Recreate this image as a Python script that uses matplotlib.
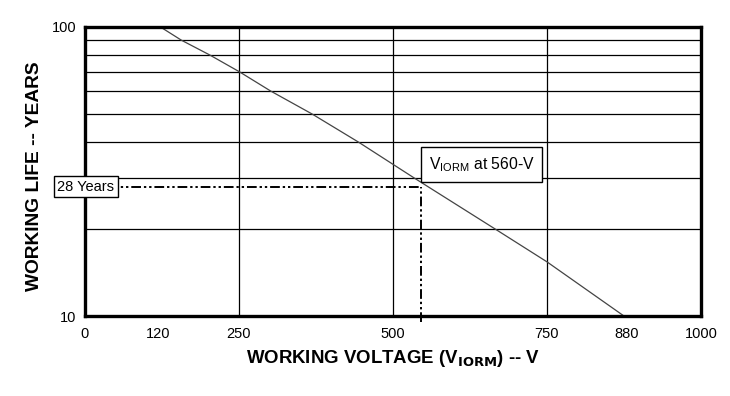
import numpy as np
import matplotlib.pyplot as plt
from matplotlib.ticker import FixedLocator, NullLocator

plt.rcParams['font.family'] = ['Liberation Sans', 'DejaVu Sans']

# curve
voltage = [123, 157, 203, 251, 302, 369, 444, 535, 666, 750, 875]
life = [100, 90, 80, 70, 60, 50, 40, 30, 20, 15.4, 10]

x_ticks = [0, 120, 250, 500, 750, 880, 1000]
x_grid = [250, 500, 750]
y_grid = [20, 30, 40, 50, 60, 70, 80, 90]

v_mark = 545
life_mark = 28

fig = plt.figure(figsize=(7.3, 3.96), dpi=100)
ax = fig.add_axes([0.1158, 0.202, 0.8445, 0.730])

ax.set_yscale('log')
ax.set_xlim(0, 1000)
ax.set_ylim(10, 100)

for gx in x_grid:
    ax.axvline(gx, color='black', lw=0.9, zorder=1)
for gy in y_grid:
    ax.axhline(gy, color='black', lw=0.9, zorder=1)

ax.plot(voltage, life, color='#444444', lw=0.9, zorder=2)

# dash-dot marker lines
ds = (0, (5, 1.5, 1.2, 1.5, 1.2, 1.5))
ax.plot([0, v_mark], [life_mark, life_mark], color='black', lw=1.4, linestyle=ds, zorder=3)
ax.plot([v_mark, v_mark], [9.5, life_mark], color='black', lw=1.4, linestyle=ds,
        zorder=3, clip_on=False)

ax.text(0.0485, life_mark, '28 Years', transform=ax.get_yaxis_transform(),
        ha='right', va='center', fontsize=10.5, zorder=5, clip_on=False,
        bbox=dict(boxstyle='square,pad=0.25', fc='white', ec='black', lw=1.0))
ax.text(558, 31.0, r'V$_{\mathregular{IORM}}$ at 560-V',
        ha='left', va='bottom', fontsize=11.3, zorder=5,
        bbox=dict(boxstyle='square,pad=0.5', fc='white', ec='black', lw=1.0))

ax.xaxis.set_major_locator(FixedLocator(x_ticks))
ax.set_xticklabels([str(t) for t in x_ticks])
ax.yaxis.set_major_locator(FixedLocator([10, 100]))
ax.yaxis.set_minor_locator(NullLocator())
ax.set_yticklabels(['10', '100'])
ax.tick_params(length=0, labelsize=10.5, pad=8)
ax.tick_params(axis='y', pad=6)

for s in ax.spines.values():
    s.set_linewidth(2.4)
    s.set_zorder(4)

ax.set_xlabel(r'WORKING VOLTAGE (V$_{\mathbf{IORM}}$) -- V', fontsize=13.4,
              fontweight='bold', labelpad=5)
ax.set_ylabel('WORKING LIFE -- YEARS', fontsize=13.8, fontweight='bold')
ax.yaxis.set_label_coords(-0.067, 0.483)

plt.savefig('out.png', dpi=100)
